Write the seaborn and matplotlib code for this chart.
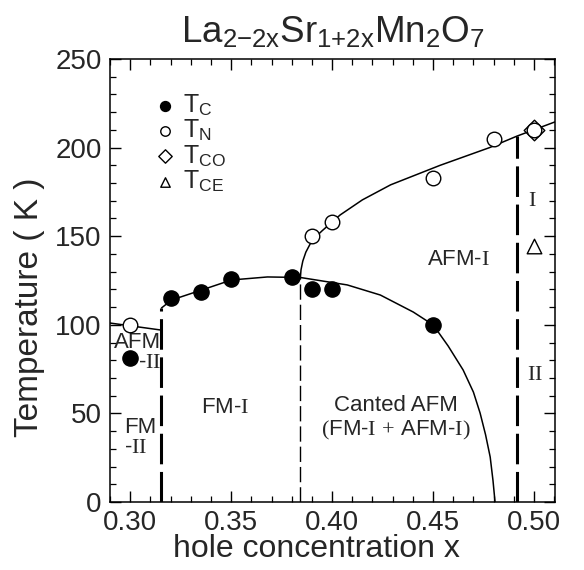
import numpy as np
import pandas as pd
import matplotlib
matplotlib.use("Agg")
import matplotlib.pyplot as plt
from matplotlib.ticker import MultipleLocator
import seaborn as sns

# measured points
tc_x = [0.30, 0.32, 0.335, 0.35, 0.38, 0.39, 0.40, 0.45]
tc_y = [81, 115, 118.5, 126, 127, 120, 120, 100]
tn_x = [0.30, 0.39, 0.40, 0.45, 0.48, 0.50]
tn_y = [100, 150, 158, 183, 205, 210]
tco_x = [0.50]
tco_y = [210]
tce_x = [0.50]
tce_y = [144.5]

# guide lines
tc_line_x = [0.3155, 0.3205, 0.3353, 0.3502, 0.368, 0.3843, 0.4075, 0.4239,
             0.4402, 0.4501, 0.4575, 0.4649, 0.470, 0.4733, 0.476, 0.4783,
             0.4797, 0.4807]
tc_line_y = [109.5, 114, 119.6, 125.3, 127, 126.7, 122.5, 116.8,
             107.2, 99.9, 88, 74.5, 62, 50.2, 38, 25.4, 12, 0]
tn_line_x = [0.3843, 0.3846, 0.3855, 0.3870, 0.3900, 0.3950, 0.4040, 0.4150,
             0.4290, 0.4535, 0.4780, 0.4916, 0.5104]
tn_line_y = [126.7, 131, 136, 141, 147.5, 153, 162, 170.5,
             179, 190, 200, 206.5, 214.5]
afm2_line_x = [0.29, 0.3155]
afm2_line_y = [101, 97]

# phase boundaries (x, top T)
b1_x, b1_top = 0.3155, 109.5
b2_x, b2_top = 0.3843, 126.7
b3_x, b3_top = 0.4916, 206.5

sns.set_theme(style="ticks")
plt.rcParams["font.family"] = ["Liberation Sans", "DejaVu Sans"]
plt.rcParams["mathtext.fontset"] = "custom"
plt.rcParams["mathtext.rm"] = "Liberation Serif"
plt.rcParams["mathtext.it"] = "Liberation Serif:italic"
plt.rcParams["mathtext.bf"] = "Liberation Serif:bold"

fig = plt.figure(figsize=(5.84, 5.70), dpi=100)
ax = fig.add_axes([110 / 584, 1 - 502 / 570, 445 / 584, 443 / 570])

# lines
sns.lineplot(x=tc_line_x, y=tc_line_y, sort=False, estimator=None, color="black", lw=1.1, ax=ax)
sns.lineplot(x=tn_line_x, y=tn_line_y, sort=False, estimator=None, color="black", lw=1.1, ax=ax)
sns.lineplot(x=afm2_line_x, y=afm2_line_y, sort=False, estimator=None, color="black", lw=1.1, ax=ax)
ax.plot([b1_x, b1_x], [0, b1_top], color="black", lw=2.2, dashes=(10, 2.5))
ax.plot([b2_x, b2_x], [0, b2_top], color="black", lw=1.0, dashes=(11, 3.6))
ax.plot([b3_x, b3_x], [0, b3_top], color="black", lw=2.2, dashes=(10, 2.5))

# points
sc = dict(ax=ax, edgecolor="black", linewidth=1.0, zorder=5)
sns.scatterplot(x=tco_x, y=tco_y, marker="D", s=110, facecolor="white", label=r"T$_\mathregular{CO}$", **sc)
sns.scatterplot(x=tc_x, y=tc_y, marker="o", s=120, color="black", label=r"T$_\mathregular{C}$", **sc)
sns.scatterplot(x=tn_x, y=tn_y, marker="o", s=110, facecolor="white", label=r"T$_\mathregular{N}$", **sc)
sns.scatterplot(x=tce_x, y=tce_y, marker="^", s=110, facecolor="white", label=r"T$_\mathregular{CE}$", **sc)

h, l = ax.get_legend_handles_labels()
order = [1, 2, 0, 3]
ax.legend([h[i] for i in order], [l[i] for i in order], loc="upper left",
          bbox_to_anchor=(0.075, 0.952), frameon=False, fontsize=18,
          markerscale=0.65, handlelength=0.7, handletextpad=0.4,
          labelspacing=-0.02, borderpad=0)

# region labels
fs = 16
ax.text(0.3151, 90, "AFM", ha="right", va="center", fontsize=fs)
ax.text(0.3151, 79, r"-$\mathrm{II}$", ha="right", va="center", fontsize=fs)
ax.text(0.2968, 42, "FM", ha="left", va="center", fontsize=fs)
ax.text(0.2968, 30.5, r"-$\mathrm{II}$", ha="left", va="center", fontsize=fs)
ax.text(0.3472, 53.6, r"FM-$\mathrm{I}$", ha="center", va="center", fontsize=fs)
ax.text(0.4318, 54.7, "Canted AFM", ha="center", va="center", fontsize=fs)
ax.text(0.4313, 40.6, r"$\mathrm{(}$FM-$\mathrm{I}$ $\mathrm{+}$ AFM-$\mathrm{I)}$",
        ha="center", va="center", fontsize=fs)
ax.text(0.4624, 136.6, r"AFM-$\mathrm{I}$", ha="center", va="center", fontsize=fs)
ax.text(0.499, 170, r"$\mathrm{I}$", ha="center", va="center", fontsize=fs)
ax.text(0.5005, 71.7, r"$\mathrm{II}$", ha="center", va="center", fontsize=fs)

ax.set_xlim(0.29, 0.5104)
ax.set_ylim(0, 250)
ax.set_xticks([0.30, 0.35, 0.40, 0.45, 0.50])
ax.set_xticklabels(["0.30", "0.35", "0.40", "0.45", "0.50"])
ax.xaxis.set_minor_locator(MultipleLocator(0.01))
ax.set_yticks([0, 50, 100, 150, 200, 250])
ax.yaxis.set_minor_locator(MultipleLocator(10))
ax.tick_params(which="both", direction="in", top=True, right=True, width=1.0, color="black")
ax.tick_params(which="major", length=8, labelsize=20, pad=6)
ax.tick_params(which="minor", length=4.5, width=0.9)
for s in ax.spines.values():
    s.set_linewidth(1.1)
    s.set_color("black")

ax.set_xlabel("hole concentration x", fontsize=23)
ax.xaxis.set_label_coords(0.463, -0.072)
ax.set_ylabel("Temperature ( K )", fontsize=24)
ax.yaxis.set_label_coords(-0.145, 0.44)
ax.set_title(r"La$_\mathregular{2{-}2x}$Sr$_\mathregular{1{+}2x}$Mn$_\mathregular{2}$O$_\mathregular{7}$",
             fontsize=26.5, pad=12)

fig.savefig("out.png", dpi=100)
